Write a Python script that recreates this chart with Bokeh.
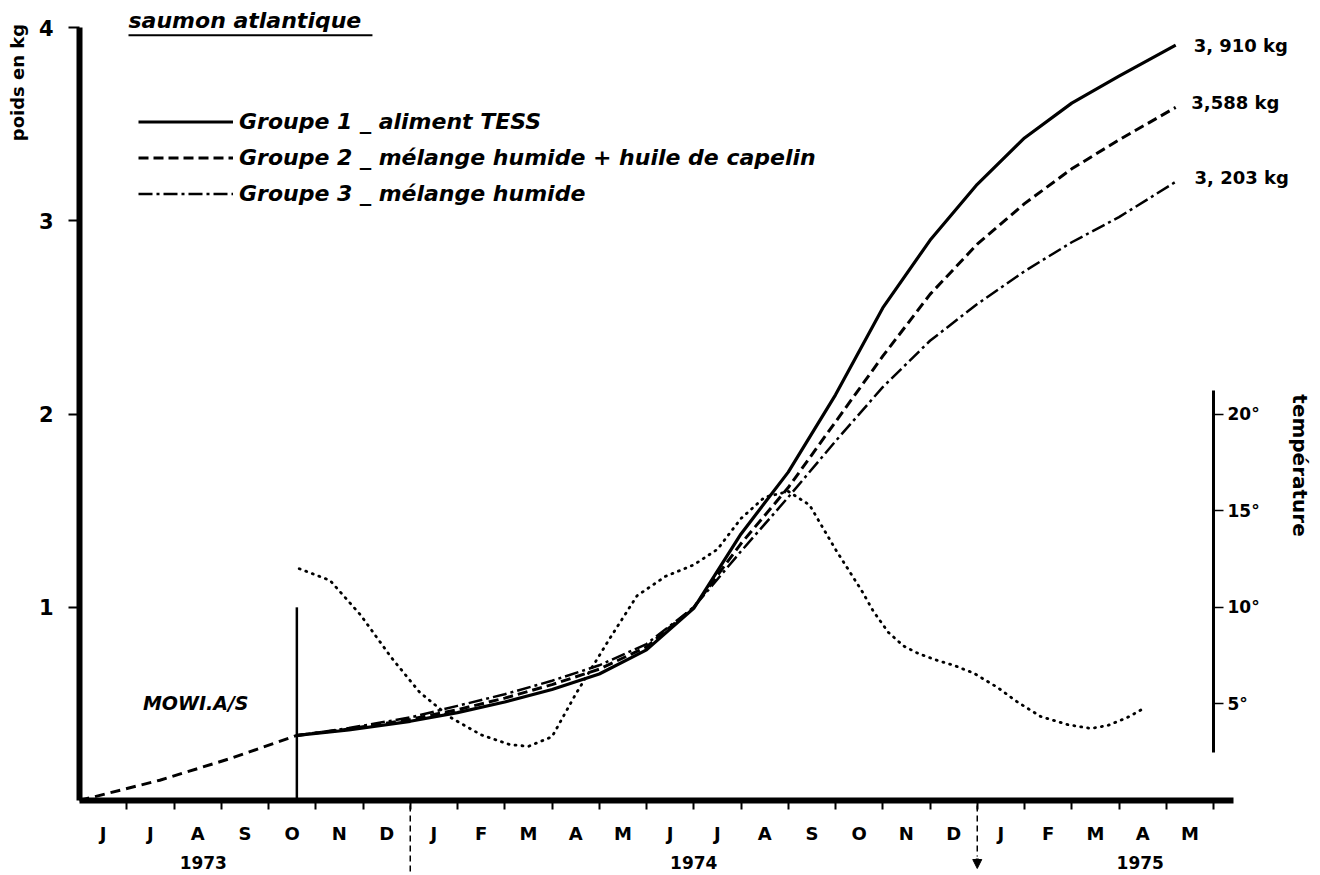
import math
from bokeh.plotting import figure
from bokeh.models import (Range1d, LinearAxis, FixedTicker, Label, Legend,
                          LegendItem, Arrow, NormalHead)
from bokeh.embed import file_html
from bokeh.resources import INLINE

FONT = "DejaVu Sans"

# ---------------- data ----------------
month_labels = ["J", "J", "A", "S", "O", "N", "D",
                "J", "F", "M", "A", "M", "J", "J", "A", "S", "O", "N", "D",
                "J", "F", "M", "A", "M"]
month_centers = [i + 0.5 for i in range(24)]
month_bounds = list(range(1, 25))
years = ["1973", "1974", "1975"]
year_pos = [2.62, 13.0, 22.45]
year_dividers = [7, 19]

weight_ticks = [1, 2, 3, 4]
temp_ticks = [5, 10, 15, 20]
temp_tick_labels = ["5°", "10°", "15°", "20°"]

# common start (before separation into groups), months since 1 June 1973, kg
start_m = [0, 1.7, 3.2, 4.6]
start_w = [0, 0.105, 0.218, 0.337]
mowi_m = 4.6
mowi_top = 1.0

g_m = [4.6, 5.7, 7, 8, 9, 10, 11, 12, 13, 14, 15, 16, 17, 18, 19, 20, 21, 22, 23.2]
g1_w = [0.337, 0.365, 0.41, 0.455, 0.51, 0.575, 0.655, 0.78, 0.995, 1.38, 1.70, 2.10,
        2.55, 2.90, 3.19, 3.43, 3.61, 3.75, 3.91]
g2_w = [0.337, 0.37, 0.42, 0.47, 0.53, 0.60, 0.68, 0.795, 1.0, 1.33, 1.62, 1.96,
        2.30, 2.62, 2.88, 3.09, 3.27, 3.42, 3.588]
g3_w = [0.337, 0.375, 0.43, 0.49, 0.55, 0.62, 0.70, 0.81, 1.0, 1.29, 1.57, 1.86,
        2.14, 2.38, 2.57, 2.74, 2.89, 3.02, 3.203]

temp_m = [4.65, 5.3, 5.95, 6.6, 7.2, 7.85, 8.5, 9.1, 9.5, 10.0, 10.5, 11.2, 11.8,
          12.4, 13.0, 13.5, 14.0, 14.5, 15.0, 15.45, 16.0, 16.57, 16.8, 17.12, 17.44,
          17.76, 18.16, 18.5, 18.92, 19.43, 19.85, 20.34, 20.91, 21.4, 21.76, 22.18,
          22.52]
temp_c = [12.0, 11.4, 9.6, 7.4, 5.6, 4.3, 3.4, 2.9, 2.8, 3.3, 5.5, 8.3, 10.6,
          11.6, 12.2, 13.0, 14.6, 15.7, 16.0, 15.3, 13.0, 10.8, 9.8, 8.7, 8.0,
          7.6, 7.25, 7.0, 6.6, 5.85, 5.1, 4.35, 3.93, 3.73, 3.88, 4.3, 4.76]

legend_labels = ["Groupe 1 _ aliment TESS",
                 "Groupe 2 _ mélange humide + huile de capelin",
                 "Groupe 3 _ mélange humide"]
final_labels = ["3, 910 kg", "3,588 kg", "3, 203 kg"]
final_label_m = [23.58, 23.53, 23.6]
final_label_w = [3.909, 3.613, 3.225]

# ---------------- layout (pixels) ----------------
W, H = 1316, 872
X0_PX, PX_PER_MONTH = 79, 47.25     # month 0 at x = 79 px
Y0_PX, PX_PER_KG = 800, 193.17      # 0 kg at y = 800 px

x_range = Range1d(-X0_PX / PX_PER_MONTH, (W - X0_PX) / PX_PER_MONTH)
y_range = Range1d((Y0_PX - H) / PX_PER_KG, Y0_PX / PX_PER_KG)

p = figure(width=W, height=H, x_range=x_range, y_range=y_range,
           output_backend="svg", toolbar_location=None,
           x_axis_type=None, y_axis_type=None,
           min_border_left=0, min_border_right=0, min_border_top=0,
           min_border_bottom=0)
p.extra_y_ranges = {"temp": Range1d(y_range.start * 10, y_range.end * 10)}
p.grid.visible = False
p.outline_line_color = None
p.background_fill_color = "white"
p.border_fill_color = "white"

# left axis (weight)
yax = LinearAxis(ticker=FixedTicker(ticks=weight_ticks), bounds=(0, 4), fixed_location=0)
yax.axis_line_width = 6
yax.major_tick_out = 11
yax.major_tick_in = 0
yax.major_tick_line_width = 2
yax.minor_tick_line_color = None
yax.major_label_standoff = 15
yax.major_label_text_font = FONT
yax.major_label_text_font_style = "bold"
yax.major_label_text_font_size = "21px"
yax.major_label_text_color = "black"
p.add_layout(yax, "left")

# bottom axis (months)
xax = LinearAxis(ticker=FixedTicker(ticks=month_centers, minor_ticks=month_bounds),
                 bounds=(0, 24.42), fixed_location=0)
xax.major_label_overrides = {c: l for c, l in zip(month_centers, month_labels)}
xax.axis_line_width = 6
xax.major_tick_line_color = None
xax.major_tick_out = 0
xax.major_tick_in = 0
xax.minor_tick_out = 9
xax.minor_tick_in = 0
xax.minor_tick_line_width = 2
xax.major_label_standoff = 13
xax.major_label_text_font = FONT
xax.major_label_text_font_style = "bold"
xax.major_label_text_font_size = "18px"
xax.major_label_text_color = "black"
p.add_layout(xax, "below")

# right axis (temperature)
tax = LinearAxis(y_range_name="temp", ticker=FixedTicker(ticks=temp_ticks),
                 bounds=(2.5, 21.2), fixed_location=24)
tax.major_label_overrides = {t: l for t, l in zip(temp_ticks, temp_tick_labels)}
tax.axis_line_width = 3
tax.major_tick_out = 10
tax.major_tick_in = 0
tax.major_tick_line_width = 1.5
tax.minor_tick_line_color = None
tax.major_label_standoff = 4
tax.major_label_text_font = FONT
tax.major_label_text_font_style = "bold"
tax.major_label_text_font_size = "17px"
tax.major_label_text_color = "black"
p.add_layout(tax, "right")

# ---------------- curves ----------------
p.line(start_m, start_w, line_width=3, color="black", line_dash="10 6")
p.segment(x0=[mowi_m], y0=[0], x1=[mowi_m], y1=[mowi_top], line_width=2.5, color="black")
r1 = p.line(g_m, g1_w, line_width=3.2, color="black", line_join="round")
r2 = p.line(g_m, g2_w, line_width=3, color="black", line_dash="10 5", line_join="round")
r3 = p.line(g_m, g3_w, line_width=2.5, color="black", line_dash="14 4 3 4",
            line_join="round")
p.line(temp_m, temp_c, y_range_name="temp", line_width=2.8, color="black",
       line_dash="1 6", line_cap="round")

legend = Legend(items=[LegendItem(label=legend_labels[0], renderers=[r1]),
                       LegendItem(label=legend_labels[1], renderers=[r2]),
                       LegendItem(label=legend_labels[2], renderers=[r3])],
                location=(138, 666), glyph_width=95, glyph_height=25, label_height=25,
                spacing=11, padding=0, margin=0, label_standoff=6,
                border_line_color=None, background_fill_alpha=0,
                label_text_font=FONT, label_text_font_style="bold italic",
                label_text_font_size="22px", label_text_color="black")
p.add_layout(legend)

# ---------------- texts ----------------
def lab(x, y, text, size, style="bold", align="left", baseline="middle", angle=0.0):
    p.add_layout(Label(x=x, y=y, text=text, text_font=FONT, text_font_size=size,
                       text_font_style=style, text_align=align,
                       text_baseline=baseline, angle=angle, text_color="black"))

lab(1.037, 4.038, "saumon atlantique", "22px", style="bold italic")
p.add_layout(Arrow(end=None, x_start=1.037, y_start=3.962, x_end=6.2, y_end=3.962,
                   line_width=2, line_color="black"))
lab(2.46, 0.507, "MOWI.A/S", "19px", style="bold italic", align="center")
for m, w, t in zip(final_label_m, final_label_w, final_labels):
    lab(m, w, t, "18px")
lab(-1.312, 3.717, "poids en kg", "18px", align="center", angle=math.pi / 2)
lab(25.84, 1.734, "température", "20px", align="center", angle=-math.pi / 2)
for x, t in zip(year_pos, years):
    lab(x, -0.321, t, "17px", align="center")
p.add_layout(Arrow(end=None, x_start=year_dividers[0], y_start=-0.026,
                   x_end=year_dividers[0], y_end=-0.373,
                   line_width=1.5, line_color="black", line_dash="6 4"))
p.add_layout(Arrow(end=None, x_start=year_dividers[1], y_start=-0.026,
                   x_end=year_dividers[1], y_end=-0.29,
                   line_width=1.5, line_color="black", line_dash="6 4"))
p.add_layout(Arrow(end=NormalHead(size=9, fill_color="black", line_color="black"),
                   x_start=year_dividers[1], y_start=-0.30, x_end=year_dividers[1],
                   y_end=-0.352, line_width=3, line_color="black"))

open("out.html", "w").write(file_html(p, INLINE))
